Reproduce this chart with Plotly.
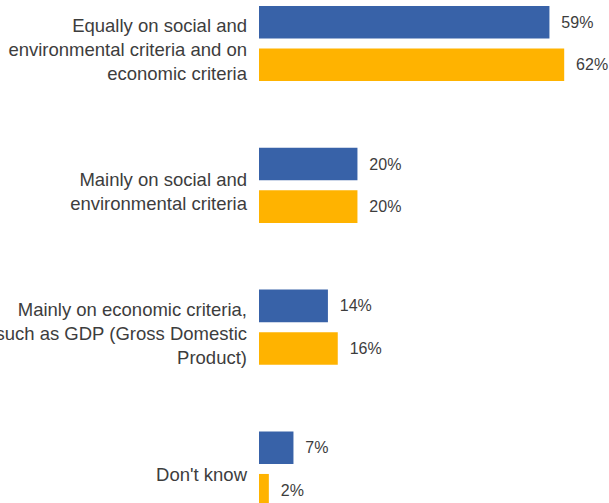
import plotly.graph_objects as go

# Survey answers (top to bottom) and the share for each of the two series
categories = [
    "Equally on social and<br>environmental criteria and on<br>economic criteria",
    "Mainly on social and<br>environmental criteria",
    "Mainly on economic criteria,<br>such as GDP (Gross Domestic<br>Product)",
    "Don't know",
]
series_a = [59, 20, 14, 7]
series_b = [62, 20, 16, 2]

BLUE = "#3862A8"
ORANGE = "#FFB300"
TEXT = "#3d3d3d"
LABEL_FONT = dict(family="Liberation Sans, Arial", size=16, color=TEXT)
PAD = "\u00a0\u00a0"

fig = go.Figure()
for vals, color in ((series_a, BLUE), (series_b, ORANGE)):
    fig.add_trace(go.Bar(
        y=categories,
        x=vals,
        orientation="h",
        marker=dict(color=color, line=dict(width=0)),
        text=[f"{PAD}{v}%" for v in vals],
        textposition="outside",
        textfont=LABEL_FONT,
        cliponaxis=False,
        constraintext="none",
        hoverinfo="skip",
    ))

fig.update_layout(
    width=609,
    height=503,
    margin=dict(l=259, r=0, t=0, b=0, autoexpand=False),
    paper_bgcolor="white",
    plot_bgcolor="white",
    barmode="group",
    bargap=0.40,
    bargroupgap=0.235,
    showlegend=False,
    font=dict(family="Liberation Sans, Arial", size=18, color=TEXT),
)
fig.update_xaxes(range=[0, 71.1], visible=False, showgrid=False, zeroline=False,
                 automargin=False)
fig.update_yaxes(
    range=[3.240, -0.307],
    automargin=False,
    showgrid=False,
    zeroline=False,
    showline=False,
    ticks="",
    ticklabelstandoff=11,
    ticklabelshift=-6,
    tickfont=dict(family="Liberation Sans, Arial", size=18.5, color=TEXT),
)

fig.write_html("out.html")
